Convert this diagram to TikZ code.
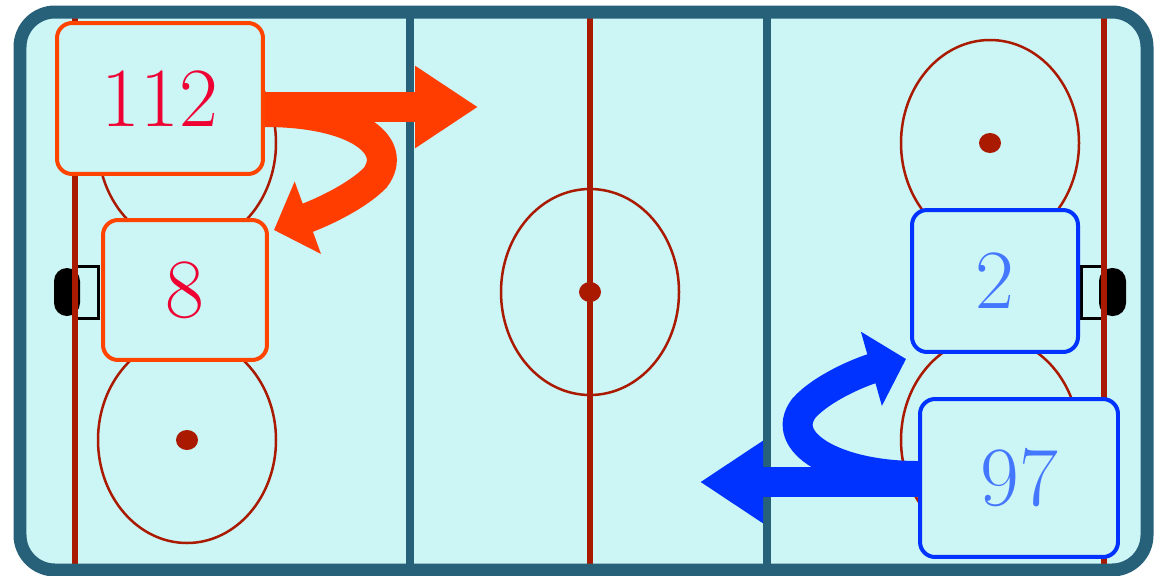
\documentclass[tikz,border=0pt]{standalone}
\usepackage{fontspec}
\usepackage{tikz}
\usetikzlibrary{arrows.meta,positioning,calc}
\definecolor{Ice}{HTML}{CCF5F5}
\definecolor{Boards}{HTML}{276179}
\definecolor{LineRed}{HTML}{AA1A00}
\definecolor{HomeEdge}{HTML}{FF4400}
\definecolor{HomeText}{HTML}{EE0033}
\definecolor{HomeArrow}{HTML}{FF3D00}
\definecolor{AwayEdge}{HTML}{0033FF}
\definecolor{AwayText}{HTML}{4477FF}
\tikzset{
  ice/.style={fill=Ice, rounded corners=7mm},
  boards/.style={draw=Boards, line width=2.6mm, rounded corners=7mm},
  blueline/.style={draw=Boards, line width=1.6mm},
  redline/.style={draw=LineRed, line width=1.2mm},
  faceoff/.style={draw=LineRed, line width=.5mm},
  spot/.style={fill=LineRed},
  netframe/.style={draw=black, line width=.6mm},
  netback/.style={fill=black, rounded corners=2.6mm},
  tag/.style={
    rounded corners=3mm, line width=.8mm, fill=Ice,
    inner sep=0pt, font=\fontsize{48}{50}\selectfont
  },
  tagHome/.style={tag, draw=HomeEdge, text=HomeText},
  tagAway/.style={tag, draw=AwayEdge, text=AwayText},
  rush/.style={line width=6mm, -{Triangle[length=12.6mm,width=15.6mm]}},
  hook/.style={line width=6mm, -{Triangle[length=7.2mm,width=15mm]}}
}
\begin{document}
\begin{tikzpicture}[x=0.02cm, y=-0.02cm]
  \useasboundingbox (0,0) rectangle (1155,575);
  \fill[white] (0,0) rectangle (1155,575);
  \fill[ice] (20,12) rectangle (1147,570);
  \fill[netback] (54,268) rectangle (80,316);
  \draw[netframe] (75,266) rectangle (98,318);
  \fill[netback] (1099,268) rectangle (1126,316);
  \draw[netframe] (1081,266) rectangle (1104,318);
  \foreach \gx in {75,590,1104}
    \draw[redline] (\gx,16) -- (\gx,566);
  \foreach \bx in {410,767}
    \draw[blueline] (\bx,12) -- (\bx,570);
  \foreach \cx/\cy in {187/143,187/440,590/292,990/143,990/440} {
    \draw[faceoff] (\cx,\cy) ellipse [x radius=89, y radius=103];
    \fill[spot] (\cx,\cy) ellipse [x radius=11, y radius=10];
  }
  \draw[boards] (20,12) rectangle (1147,570);
  \node[tagHome,minimum width=4.12cm,minimum height=3.02cm] (p112) at (160,98.5) {112};
  \node[tagHome,minimum width=3.28cm,minimum height=2.8cm] (p8) at (185,290) {8};
  \node[tagAway,minimum width=3.32cm,minimum height=2.84cm] (p2) at (995,281) {2};
  \node[tagAway,minimum width=3.96cm,minimum height=3.16cm] (p97) at (1019,478) {97};
  \coordinate (fwd) at (478,107);
  \coordinate (back) at (700,482);
  \draw[rush,draw=HomeArrow] (p112.east |- fwd) -- (fwd);
  \draw[hook,draw=HomeArrow] (p112.east |- 0,112) .. controls (355,112) and (400,145) .. (375,178)
    .. controls (355,198) and (318,214) .. ($(p8.north east)+(5,12)$);
  \draw[rush,draw=AwayEdge] (p97.west |- back) -- (back);
  \draw[hook,draw=AwayEdge] (p97.west |- 0,476) .. controls (835,476) and (778,442) .. (804,408)
    .. controls (822,388) and (860,372) .. ($(p2.south west)+(-4,5)$);
\end{tikzpicture}
\end{document}
